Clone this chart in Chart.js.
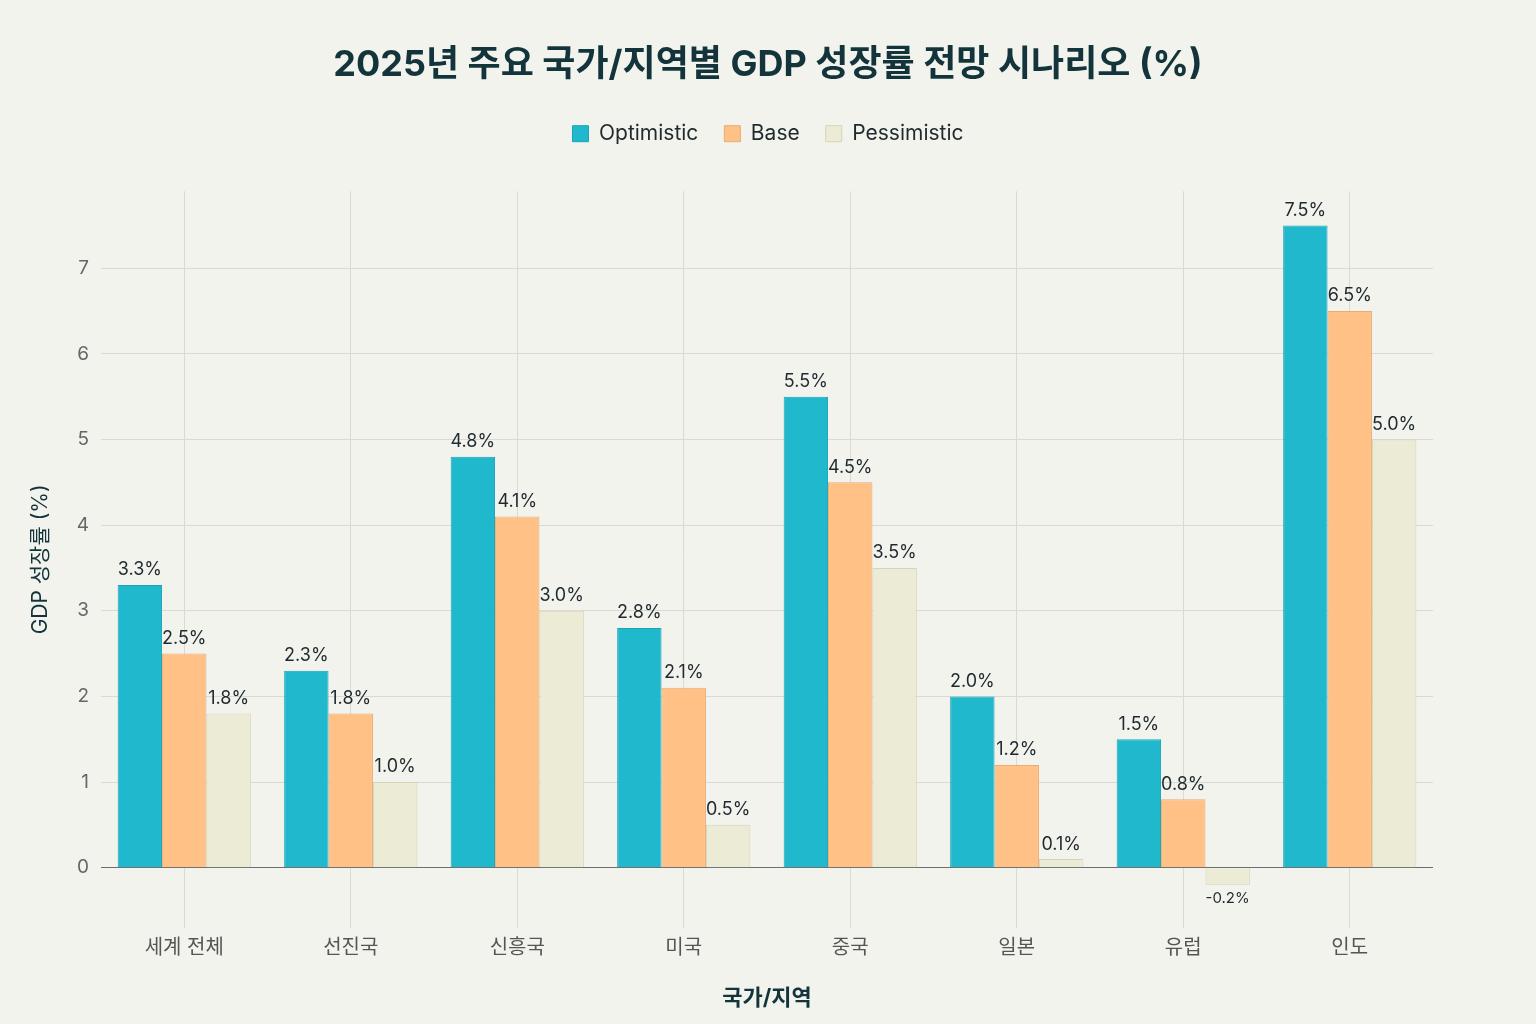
<!DOCTYPE html>
<html>
<head>
<meta charset="utf-8">
<script src="https://cdn.jsdelivr.net/npm/chart.js@4"></script>
<style>
  html, body { margin: 0; padding: 0; background: #F3F3EE; }
  #wrap { width: 1536px; height: 1024px; }
</style>
</head>
<body>
<div id="wrap"><canvas id="chart" width="1536" height="1024"></canvas></div>
<script>
const regions = ['세계 전체', '선진국', '신흥국', '미국', '중국', '일본', '유럽', '인도'];
const optimistic = [3.3, 2.3, 4.8, 2.8, 5.5, 2.0, 1.5, 7.5];
const base = [2.5, 1.8, 4.1, 2.1, 4.5, 1.2, 0.8, 6.5];
const pessimistic = [1.8, 1.0, 3.0, 0.5, 3.5, 0.1, -0.2, 5.0];
const yTicks = [0, 1, 2, 3, 4, 5, 6, 7];

const FONT = "Inter, 'Noto Sans CJK KR', sans-serif";

// draws the value text above each bar (below for negatives)
const barLabels = {
    id: 'barLabels',
    afterDatasetsDraw(chart) {
        const ctx = chart.ctx;
        ctx.save();
        ctx.textAlign = 'center';
        ctx.fillStyle = '#1F2A2E';
        chart.data.datasets.forEach((ds, i) => {
            const meta = chart.getDatasetMeta(i);
            meta.data.forEach((bar, j) => {
                const v = ds.data[j];
                const text = v.toFixed(1) + '%';
                if (v >= 0) {
                    ctx.font = '18px ' + FONT;
                    ctx.textBaseline = 'bottom';
                    ctx.fillText(text, bar.x, bar.y - 6);
                } else {
                    ctx.font = '15px ' + FONT;
                    ctx.textBaseline = 'top';
                    ctx.fillText(text, bar.x, bar.y + 6);
                }
            });
        });
        ctx.restore();
    }
};

// extra space between legend and plot
const legendGap = {
    id: 'legendGap',
    beforeInit(chart) {
        const fit = chart.legend.fit;
        chart.legend.fit = function () {
            fit.bind(chart.legend)();
            this.height += 37;
        };
    }
};

new Chart(document.getElementById('chart'), {
    type: 'bar',
    data: {
        labels: regions,
        datasets: [
            { label: 'Optimistic', data: optimistic, backgroundColor: '#1FB8CD', borderColor: '#1AA3B6', borderWidth: 1 },
            { label: 'Base', data: base, backgroundColor: '#FFC185', borderColor: '#E9AC72', borderWidth: 1 },
            { label: 'Pessimistic', data: pessimistic, backgroundColor: '#ECEBD5', borderColor: '#D5D3B8', borderWidth: 1 }
        ]
    },
    options: {
        responsive: false,
        animation: false,
        devicePixelRatio: 1,
        categoryPercentage: 0.8,
        barPercentage: 1.0,
        layout: { padding: { left: 20, right: 20, top: 0, bottom: 8 } },
        plugins: {
            title: {
                display: true,
                text: '2025년 주요 국가/지역별 GDP 성장률 전망 시나리오 (%)',
                color: '#13343B',
                font: { family: FONT, size: 36, weight: 'bold' },
                padding: { top: 44, bottom: 10 }
            },
            legend: {
                position: 'top',
                labels: {
                    color: '#1F2A2E',
                    font: { family: FONT, size: 21 },
                    boxWidth: 16,
                    boxHeight: 16,
                    padding: 26
                }
            },
            tooltip: { enabled: false }
        },
        scales: {
            x: {
                grid: { offset: false, color: '#DADAD3', drawTicks: false },
                border: { display: false },
                ticks: { color: '#555', font: { family: FONT, size: 20 }, padding: 8 },
                title: {
                    display: true,
                    text: '국가/지역',
                    color: '#13343B',
                    font: { family: FONT, size: 22, weight: 'bold' },
                    padding: { top: 18 }
                }
            },
            y: {
                min: -0.7,
                max: 7.9,
                afterBuildTicks: (axis) => { axis.ticks = yTicks.map(v => ({ value: v })); },
                afterFit: (axis) => { axis.width = 81; },
                grid: {
                    color: (c) => c.tick && c.tick.value === 0 ? '#6E6E6E' : '#DADAD3',
                    drawTicks: false
                },
                border: { display: false },
                ticks: { color: '#666', font: { family: FONT, size: 19 }, padding: 12 },
                title: {
                    display: true,
                    text: 'GDP 성장률 (%)',
                    color: '#13343B',
                    font: { family: FONT, size: 21 },
                    padding: { top: 8, bottom: 0 }
                }
            },
            yRight: {
                type: 'linear',
                position: 'right',
                afterFit: (axis) => { axis.width = 83; },
                grid: { drawOnChartArea: false, drawTicks: false },
                border: { display: false },
                ticks: { display: false }
            }
        }
    },
    plugins: [barLabels, legendGap]
});
</script>
</body>
</html>
